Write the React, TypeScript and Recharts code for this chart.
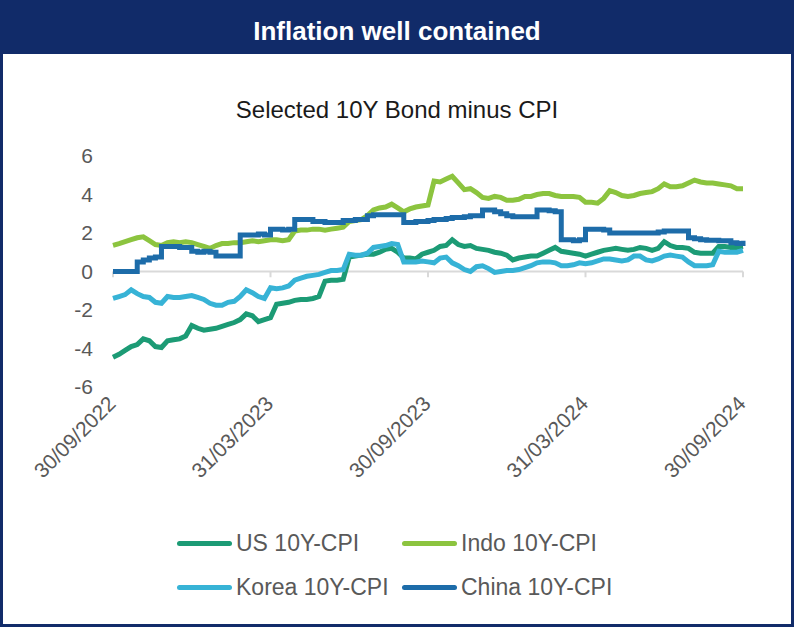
import { LineChart, Line, XAxis, YAxis, ReferenceLine } from 'recharts';

// weekly readings, 30/09/2022 (week 0) to 30/09/2024 (week 104)
const usCpi = [
  -4.45, -4.3, -4.1, -3.9, -3.8, -3.5, -3.6, -3.9, -3.95, -3.6, -3.55, -3.5, -3.35, -2.8, -2.95, -3.05, -3.0, -2.95,
  -2.85, -2.75, -2.65, -2.5, -2.2, -2.3, -2.6, -2.5, -2.4, -1.7, -1.65, -1.6, -1.5, -1.45, -1.45, -1.4, -1.3, -0.5,
  -0.45, -0.45, -0.4, 0.75, 0.8, 0.85, 0.9, 0.9, 1.0, 1.15, 1.2, 1.0, 0.7, 0.7, 0.65, 0.9, 1.0, 1.1, 1.3, 1.35, 1.65,
  1.4, 1.3, 1.35, 1.2, 1.15, 1.1, 1.0, 0.95, 0.85, 0.6, 0.7, 0.75, 0.8, 0.8, 0.95, 1.1, 1.25, 1.05, 1.0, 0.95, 0.9,
  0.8, 0.9, 1.0, 1.1, 1.15, 1.2, 1.15, 1.1, 1.15, 1.25, 1.2, 1.1, 1.2, 1.55, 1.35, 1.25, 1.25, 1.2, 1.0, 0.95, 0.95,
  0.95, 1.3, 1.3, 1.25, 1.25, 1.3,
];
const indoCpi = [
  1.36, 1.45, 1.55, 1.65, 1.75, 1.8, 1.6, 1.4, 1.35, 1.5, 1.55, 1.5, 1.55, 1.5, 1.4, 1.3, 1.2, 1.35, 1.45, 1.45, 1.5,
  1.5, 1.55, 1.6, 1.55, 1.6, 1.65, 1.65, 1.6, 1.65, 2.1, 2.15, 2.15, 2.2, 2.2, 2.15, 2.2, 2.25, 2.3, 2.6, 2.65, 2.7,
  2.9, 3.2, 3.3, 3.35, 3.5, 3.3, 3.1, 3.25, 3.35, 3.4, 3.45, 4.7, 4.65, 4.8, 4.95, 4.6, 4.25, 4.3, 4.1, 3.85, 3.8, 3.9,
  3.85, 3.7, 3.7, 3.75, 3.9, 3.9, 4.0, 4.05, 4.05, 3.95, 3.9, 3.9, 3.9, 3.85, 3.6, 3.6, 3.55, 3.8, 4.2, 4.1, 3.95, 3.9,
  3.95, 4.05, 4.1, 4.15, 4.3, 4.55, 4.4, 4.4, 4.45, 4.6, 4.75, 4.65, 4.6, 4.6, 4.55, 4.5, 4.45, 4.3, 4.3,
];
const koreaCpi = [
  -1.4, -1.3, -1.2, -0.95, -1.15, -1.3, -1.35, -1.6, -1.65, -1.3, -1.35, -1.35, -1.3, -1.25, -1.35, -1.45, -1.65,
  -1.75, -1.75, -1.6, -1.55, -1.3, -0.95, -1.1, -1.3, -1.4, -0.85, -0.9, -0.85, -0.75, -0.45, -0.35, -0.25, -0.2,
  -0.15, -0.05, 0.05, 0.05, 0.1, 0.9, 0.85, 0.85, 0.95, 1.25, 1.3, 1.35, 1.45, 1.4, 0.5, 0.5, 0.5, 0.55, 0.5, 0.45,
  0.7, 0.75, 0.45, 0.3, 0.1, 0.0, 0.25, 0.3, 0.15, -0.05, 0.0, 0.05, 0.05, 0.1, 0.2, 0.3, 0.45, 0.5, 0.5, 0.45, 0.3,
  0.3, 0.35, 0.45, 0.4, 0.45, 0.55, 0.65, 0.65, 0.6, 0.55, 0.6, 0.8, 0.8, 0.6, 0.55, 0.65, 0.8, 0.85, 0.8, 0.75, 0.5,
  0.3, 0.3, 0.3, 0.35, 1.05, 1.0, 1.0, 1.0, 1.1,
];
const chinaCpi = [
  0, 0, 0, 0, 0.5, 0.6, 0.7, 0.75, 1.3, 1.3, 1.3, 1.25, 1.25, 1.05, 1.0, 1.05, 1.0, 0.8, 0.8, 0.8, 0.8, 1.9, 1.9, 1.9,
  1.95, 1.9, 2.2, 2.2, 2.15, 2.2, 2.7, 2.7, 2.7, 2.6, 2.6, 2.55, 2.55, 2.55, 2.65, 2.65, 2.7, 2.7, 2.9, 2.95, 2.95,
  2.95, 2.95, 2.95, 2.55, 2.55, 2.6, 2.6, 2.65, 2.7, 2.7, 2.75, 2.8, 2.8, 2.85, 2.9, 2.9, 3.2, 3.2, 3.1, 3.0, 2.9,
  2.85, 2.85, 2.85, 2.85, 3.2, 3.2, 3.15, 3.1, 1.65, 1.65, 1.6, 1.65, 2.2, 2.2, 2.2, 2.15, 2.0, 2.0, 2.0, 2.0, 2.0,
  2.0, 2.0, 2.0, 2.05, 2.1, 2.1, 2.1, 2.1, 1.75, 1.7, 1.65, 1.62, 1.62, 1.6, 1.6, 1.5, 1.45, 1.6,
];

const xTickWeeks = [0, 26, 52, 78, 104];
const xTickLabels = ['30/09/2022', '31/03/2023', '30/09/2023', '31/03/2024', '30/09/2024'];
const yTicks = [-6, -4, -2, 0, 2, 4, 6];

const series = [
  { key: 'us', name: 'US 10Y-CPI', color: '#1c9b75', type: 'linear' },
  { key: 'indo', name: 'Indo 10Y-CPI', color: '#8cc43f', type: 'linear' },
  { key: 'korea', name: 'Korea 10Y-CPI', color: '#37b3d6', type: 'linear' },
  { key: 'china', name: 'China 10Y-CPI', color: '#1d6ca9', type: 'stepAfter' },
] as const;

const data = usCpi.map((v, i) => ({
  w: i,
  us: v,
  indo: indoCpi[i],
  korea: koreaCpi[i],
  china: chinaCpi[i],
}));

const NAVY = '#112b69';
const FONT = 'Arial, "Liberation Sans", sans-serif';
const GREY = '#595959';

function DateTick({ x, y, payload }: any) {
  const idx = xTickWeeks.indexOf(payload.value);
  const tx = x + 4;
  const ty = y + 10;
  return (
    <text
      x={tx}
      y={ty}
      textAnchor="end"
      transform={`rotate(-45 ${tx} ${ty})`}
      fill={GREY}
      fontSize={21}
      fontFamily={FONT}
    >
      {xTickLabels[idx]}
    </text>
  );
}

const legendPos = [
  { left: 177, top: 543 },
  { left: 402, top: 543 },
  { left: 177, top: 587 },
  { left: 402, top: 587 },
];

export default function App() {
  return (
    <div
      style={{
        position: 'absolute',
        left: 0,
        top: 0,
        width: 794,
        height: 627,
        boxSizing: 'border-box',
        border: `3px solid ${NAVY}`,
        background: '#fff',
        fontFamily: FONT,
      }}
    >
      <div
        style={{
          position: 'absolute',
          left: 0,
          top: 0,
          width: 788,
          height: 51,
          background: NAVY,
          color: '#fff',
          fontWeight: 'bold',
          fontSize: 26,
          lineHeight: '56px',
          textAlign: 'center',
        }}
      >
        Inflation well contained
      </div>
      <div
        style={{
          position: 'absolute',
          left: 0,
          top: 95,
          width: 788,
          textAlign: 'center',
          fontSize: 24,
          lineHeight: '24px',
          color: '#1a1a1a',
        }}
      >
        Selected 10Y Bond minus CPI
      </div>

      <div style={{ position: 'absolute', left: -3, top: -3 }}>
        <LineChart
          width={794}
          height={627}
          data={data}
          margin={{ top: 156, right: 51, bottom: 180, left: 0 }}
        >
          <XAxis
            dataKey="w"
            type="number"
            domain={[0, 104]}
            ticks={xTickWeeks}
            interval={0}
            axisLine={false}
            tickLine={false}
            tick={<DateTick />}
            height={60}
          />
          <YAxis
            domain={[-6, 6]}
            ticks={yTicks}
            interval={0}
            axisLine={false}
            tickLine={false}
            width={113}
            tickSize={6}
            tickMargin={14}
            tick={{ fill: GREY, fontSize: 21, fontFamily: FONT }}
          />
          <ReferenceLine y={0} stroke="#d9d9d9" strokeWidth={2} ifOverflow="visible" />
          {xTickWeeks.map((wk) => (
            <ReferenceLine
              key={wk}
              segment={[
                { x: wk, y: 0 },
                { x: wk, y: -0.3 },
              ]}
              stroke="#d9d9d9"
              strokeWidth={2}
              ifOverflow="visible"
            />
          ))}
          {series.map((s) => (
            <Line
              key={s.key}
              dataKey={s.key}
              name={s.name}
              type={s.type}
              stroke={s.color}
              strokeWidth={5}
              dot={false}
              activeDot={false}
              isAnimationActive={false}
            />
          ))}
        </LineChart>
      </div>

      {series.map((s, i) => (
        <div
          key={s.key}
          style={{
            position: 'absolute',
            left: legendPos[i].left - 3,
            top: legendPos[i].top - 3 - 14,
            height: 28,
            display: 'flex',
            alignItems: 'center',
            fontSize: 23,
            color: GREY,
            whiteSpace: 'nowrap',
          }}
        >
          <span
            style={{
              display: 'inline-block',
              width: 55,
              height: 5,
              borderRadius: 3,
              background: s.color,
              marginRight: 4,
            }}
          />
          {s.name}
        </div>
      ))}
    </div>
  );
}
